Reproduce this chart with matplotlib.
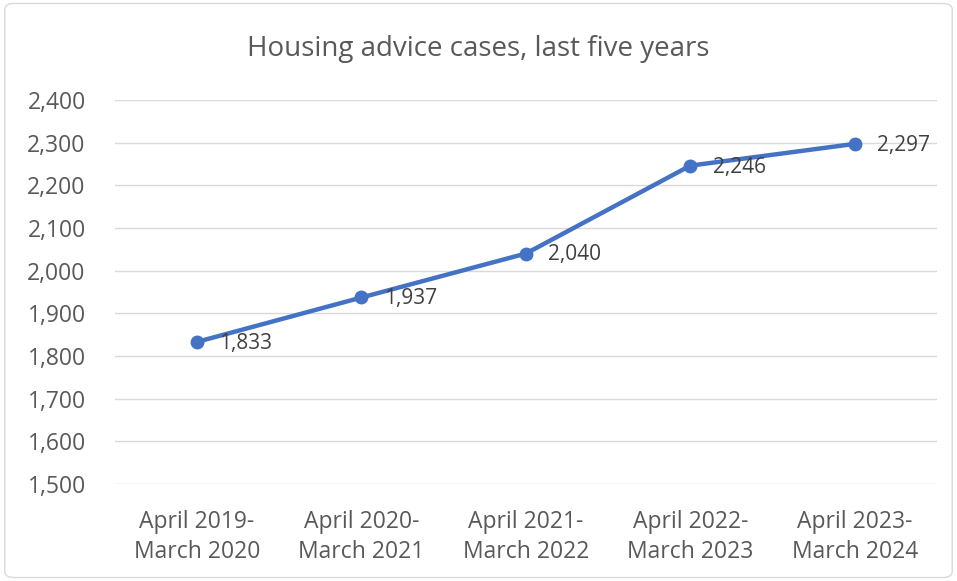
import matplotlib.pyplot as plt
from matplotlib.patches import FancyBboxPatch

periods = ['April 2019-\nMarch 2020', 'April 2020-\nMarch 2021', 'April 2021-\nMarch 2022',
           'April 2022-\nMarch 2023', 'April 2023-\nMarch 2024']
cases = [1833, 1937, 2040, 2246, 2297]
yticks = [1500, 1600, 1700, 1800, 1900, 2000, 2100, 2200, 2300, 2400]

plt.rcParams['font.family'] = ['Open Sans', 'DejaVu Sans']
blue = '#4472C4'
txt = '#595959'

fig = plt.figure(figsize=(9.57, 5.81), dpi=100)
ax = fig.add_axes([0.120, 0.167, 0.859, 0.661])

x = range(len(periods))
ax.plot(x, cases, color=blue, linewidth=3.2, marker='o', markersize=9, solid_capstyle='round')
for i, v in enumerate(cases):
    ax.annotate(f'{v:,}', (i, v), xytext=(16, -1), textcoords='offset points',
                ha='left', va='center', fontsize=15, color='#404040')

ax.set_xlim(-0.5, len(periods) - 0.5)
ax.set_ylim(1500, 2400)
ax.set_yticks(yticks)
ax.set_yticklabels([f'{t:,}' for t in yticks], fontsize=16.5, color=txt)
ax.set_xticks(list(x))
ax.set_xticklabels(periods, fontsize=16.5, color=txt, linespacing=1.3)
ax.tick_params(axis='y', length=0, pad=21)
ax.tick_params(axis='x', length=0, pad=19)
ax.grid(axis='y', color='#D9D9D9', linewidth=1)
ax.set_axisbelow(True)
for s in ax.spines.values():
    s.set_visible(False)

fig.text(0.5, 0.916, 'Housing advice cases, last five years', ha='center', va='center',
         fontsize=20, color=txt)

border = FancyBboxPatch((0.005, 0.006), 0.99, 0.988, boxstyle='round,pad=0,rounding_size=0.01',
                        transform=fig.transFigure, fill=False, edgecolor='#D9D9D9', linewidth=1)
fig.patches.append(border)

fig.savefig('out.png', dpi=100)
